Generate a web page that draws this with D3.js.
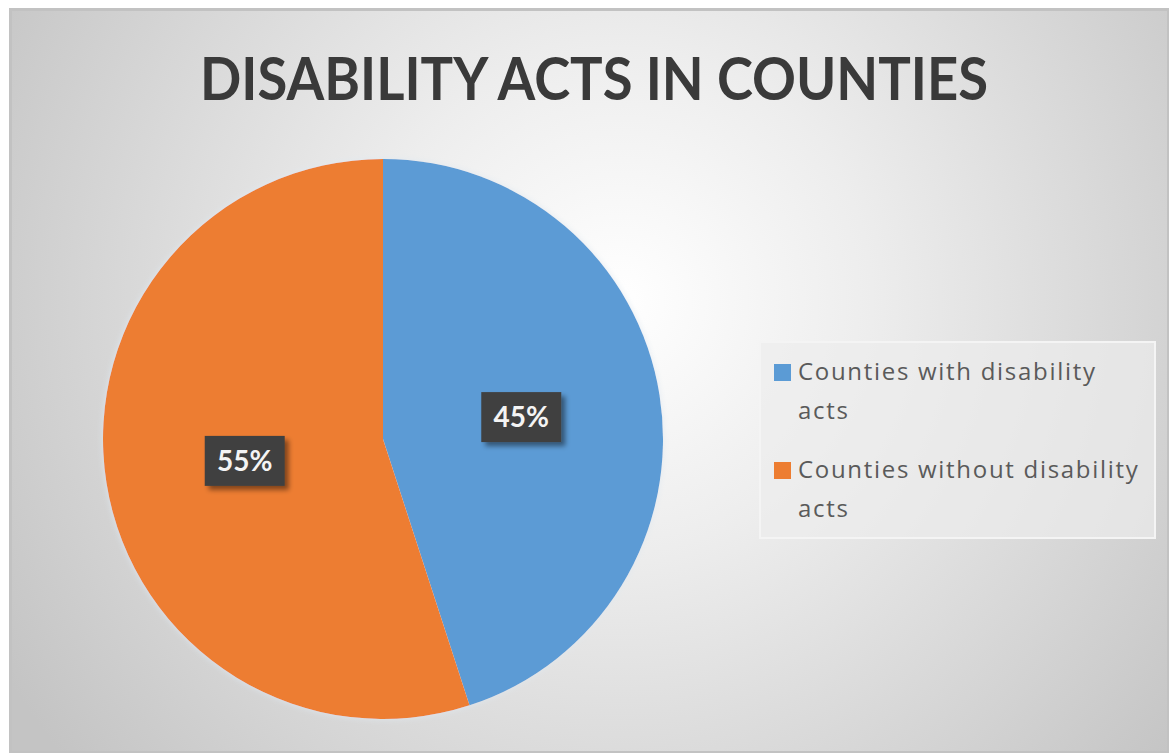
<!DOCTYPE html>
<html><head><meta charset="utf-8">
<script src="https://cdn.jsdelivr.net/npm/d3@7"></script>
<style>html,body{margin:0;padding:0;background:#fff;overflow:hidden}</style>
</head><body>
<svg id="chart" width="1169" height="753"></svg>
<script>
const title = "DISABILITY ACTS IN COUNTIES";
const categories = ["Counties with disability acts", "Counties without disability acts"];
const legendLines = [["Counties with disability", "acts"], ["Counties without disability", "acts"]];
const values = [45, 55];
const colors = ["#5b9bd5", "#ed7d31"];

const W = 1169, H = 753;
const svg = d3.select("#chart");
const defs = svg.append("defs");

const rg = defs.append("radialGradient").attr("id", "bg")
  .attr("gradientUnits", "userSpaceOnUse")
  .attr("cx", 620).attr("cy", 300).attr("r", 720);
rg.append("stop").attr("offset", 0).attr("stop-color", "#ffffff");
rg.append("stop").attr("offset", 0.35).attr("stop-color", "#ededed");
rg.append("stop").attr("offset", 1).attr("stop-color", "#c4c4c4");

const sh = defs.append("filter").attr("id", "lblshadow").attr("x", "-30%").attr("y", "-30%").attr("width", "170%").attr("height", "170%");
sh.append("feDropShadow").attr("dx", 4).attr("dy", 4).attr("stdDeviation", 2.5).attr("flood-color", "#000").attr("flood-opacity", 0.45);

const glow = defs.append("filter").attr("id", "pieglow").attr("x", "-10%").attr("y", "-10%").attr("width", "120%").attr("height", "120%");
glow.append("feDropShadow").attr("dx", 0).attr("dy", 0).attr("stdDeviation", 3).attr("flood-color", "#dfe8f0").attr("flood-opacity", 0.9);

// frame
svg.append("rect").attr("x", 9).attr("y", 8).attr("width", W - 9).attr("height", H - 8).attr("fill", "url(#bg)");
svg.append("rect").attr("x", 10.5).attr("y", 9.5).attr("width", W - 11).attr("height", H - 10)
  .attr("fill", "none").attr("stroke", "#c2c2c2").attr("stroke-width", 3);

// title
svg.append("text").attr("x", 594).attr("y", 100).attr("text-anchor", "middle")
  .attr("font-family", "Lato, 'Open Sans', sans-serif").attr("font-weight", 700)
  .attr("font-size", 60).attr("fill", "#3a3a3a")
  .attr("textLength", 788).attr("lengthAdjust", "spacingAndGlyphs")
  .text(title);

// pie
const cx = 383, cy = 439, r = 280;
const pie = d3.pie().sort(null).value(d => d)(values);
const arc = d3.arc().innerRadius(0).outerRadius(r);
const labelArc = d3.arc().innerRadius(r * 0.5).outerRadius(r * 0.5);
const g = svg.append("g").attr("transform", `translate(${cx},${cy})`);
g.append("g").attr("filter", "url(#pieglow)").selectAll("path").data(pie).join("path")
  .attr("d", arc).attr("fill", (d, i) => colors[i]);

const lbl = g.selectAll("g.lbl").data(pie).join("g").attr("class", "lbl")
  .attr("transform", d => `translate(${labelArc.centroid(d)})`);
lbl.append("rect").attr("x", -40).attr("y", -25).attr("width", 80).attr("height", 50)
  .attr("fill", "#404040").attr("filter", "url(#lblshadow)");
lbl.append("text").attr("text-anchor", "middle").attr("y", 10)
  .attr("font-family", "Lato, 'Open Sans', sans-serif").attr("font-weight", 700)
  .attr("font-size", 28).attr("fill", "#f4f4f4")
  .text(d => d3.format(".0%")(d.data / d3.sum(values)));

// legend
svg.append("rect").attr("x", 760).attr("y", 342).attr("width", 395).attr("height", 196)
  .attr("fill", "#ededed").attr("fill-opacity", 0.7).attr("stroke", "#f4f4f4").attr("stroke-width", 2);
const itemY = [380, 478];
const lg = svg.append("g").selectAll("g").data(categories).join("g")
  .attr("transform", (d, i) => `translate(0,${itemY[i]})`);
lg.append("rect").attr("x", 774).attr("y", -16).attr("width", 17).attr("height", 17)
  .attr("fill", (d, i) => colors[i]);
lg.each(function(d, i) {
  const t = d3.select(this).append("text")
    .attr("font-family", "'Open Sans', sans-serif").attr("font-size", 24)
    .attr("letter-spacing", 1.7).attr("fill", "#5a5a5a");
  legendLines[i].forEach((line, j) => {
    t.append("tspan").attr("x", 798).attr("y", j * 39).text(line);
  });
});
</script>
</body></html>
